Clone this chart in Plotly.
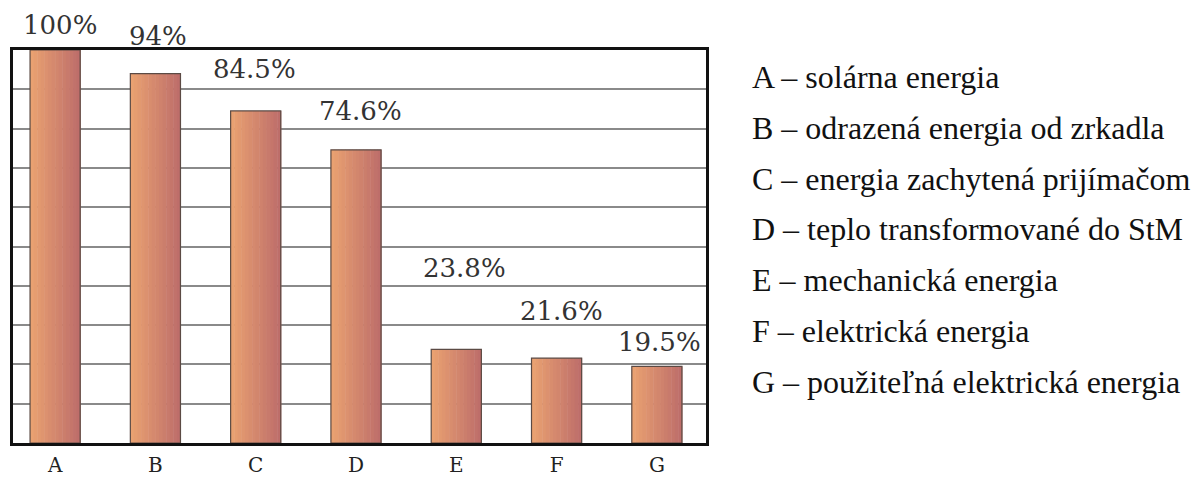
import plotly.graph_objects as go

categories = ["A", "B", "C", "D", "E", "F", "G"]
values = [100, 94, 84.5, 74.6, 23.8, 21.6, 19.5]
value_labels = ["100%", "94%", "84.5%", "74.6%", "23.8%", "21.6%", "19.5%"]
legend_items = [
    "A – solárna energia",
    "B – odrazená energia od zrkadla",
    "C – energia zachytená prijímačom",
    "D – teplo transformované do StM",
    "E – mechanická energia",
    "F – elektrická energia",
    "G – použiteľná elektrická energia",
]

# label placement tweaks (pixels above the bar top, horizontal nudge)
label_yshift = [25, 38, 42, 39, 81, 47, 24]
label_xshift = [5, 3, -1, 5, 8, 5, 3]

# page body has an 8px default margin; compensate so the plot lands where the reference has it
PAGE_OFF = 8
W, H = 1200, 479
PLOT_L, PLOT_R, PLOT_T, PLOT_B = 13, 706, 50, 443
ML = PLOT_L - PAGE_OFF
MT = PLOT_T - PAGE_OFF
MR = W - (PLOT_R - PAGE_OFF)
MB = H - (PLOT_B - PAGE_OFF)
plot_w = PLOT_R - PLOT_L
plot_h = PLOT_B - PLOT_T

c0 = (233, 161, 113)
c1 = (190, 110, 106)
N = 14
bar_w = 0.5

fig = go.Figure()
for k in range(N):
    t = k / (N - 1)
    col = tuple(round(c0[i] + (c1[i] - c0[i]) * t) for i in range(3))
    fig.add_trace(go.Bar(
        x=categories, y=values,
        width=bar_w / N + 0.005,
        offset=-bar_w / 2 + k * bar_w / N,
        marker=dict(color="rgb(%d,%d,%d)" % col, line=dict(width=0)),
        showlegend=False, hoverinfo="skip",
    ))
fig.add_trace(go.Bar(
    x=categories, y=values, width=bar_w, offset=-bar_w / 2,
    marker=dict(color="rgba(0,0,0,0)", line=dict(color="#5b4a44", width=1.2)),
    showlegend=False, hoverinfo="skip",
))

for c, v, lab, dy, dx in zip(categories, values, value_labels, label_yshift, label_xshift):
    fig.add_annotation(x=c, y=v, text=lab, showarrow=False, yshift=dy, xshift=dx,
                       font=dict(family="DejaVu Serif", size=26, color="#333333"),
                       xanchor="center", yanchor="middle")

legend_x_px = 750
line_top_px = 77
line_gap_px = 50.8
for i, txt in enumerate(legend_items):
    ypx = line_top_px + i * line_gap_px
    fig.add_annotation(xref="paper", yref="paper",
                       x=(legend_x_px - PLOT_L) / plot_w, y=(PLOT_B - ypx) / plot_h,
                       text=txt, showarrow=False, xanchor="left", yanchor="middle",
                       font=dict(family="Liberation Serif", size=32, color="#111111"))

fig.update_layout(
    width=W, height=H,
    margin=dict(l=ML, r=MR, t=MT, b=MB),
    barmode="overlay",
    plot_bgcolor="white", paper_bgcolor="white",
    xaxis=dict(type="category", range=[-0.42, 6.49], showgrid=False,
               showline=True, mirror=True, linecolor="#111111", linewidth=3,
               ticks="", ticklabelstandoff=2,
               tickfont=dict(family="DejaVu Serif", size=20, color="#222222")),
    yaxis=dict(range=[0, 100], dtick=10, showgrid=True, gridcolor="#8a8a8a", gridwidth=1.5,
               showline=True, mirror=True, linecolor="#111111", linewidth=3,
               showticklabels=False, ticks="", zeroline=False),
)

fig.write_html("out.html")
